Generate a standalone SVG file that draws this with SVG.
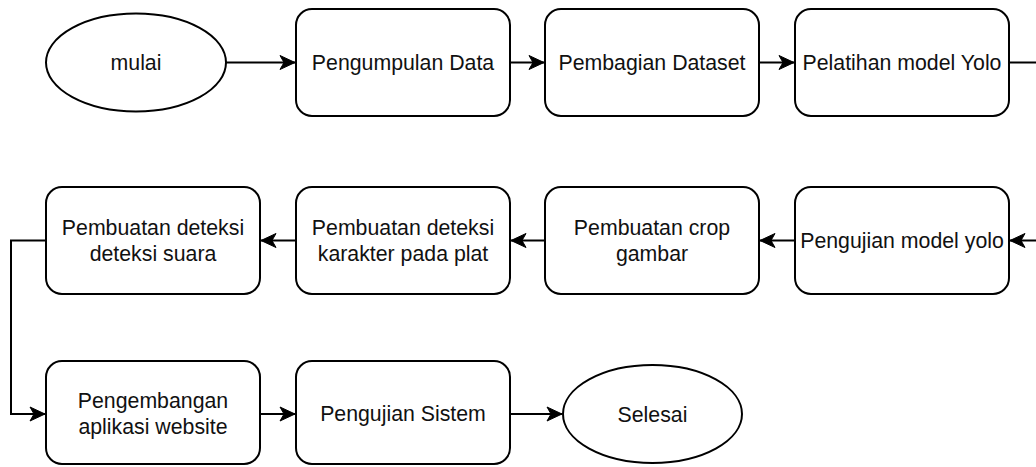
<svg xmlns="http://www.w3.org/2000/svg" width="1036" height="467" viewBox="0 0 1036 467">
<style>
.n{fill:#fff;stroke:#000;stroke-width:2}
.t{font-family:"Liberation Sans",Arial,sans-serif;font-size:21.3px;fill:#111;text-anchor:middle}
.c{fill:none;stroke:#000;stroke-width:2}
</style>
<defs>
<marker id="a" markerUnits="userSpaceOnUse" markerWidth="20" markerHeight="20" viewBox="-16 -10 20 20" refX="0" refY="0" orient="auto">
<path d="M0,0 L-15,-7 L-11,0 L-15,7 Z" fill="#000" stroke="#000" stroke-width="1"/>
</marker>
</defs>
<rect width="1036" height="467" fill="#fff"/>
<g id="connectors">
<path class="c" d="M226,62.5 H295" marker-end="url(#a)"/>
<path class="c" d="M510,62.5 H544" marker-end="url(#a)"/>
<path class="c" d="M759,62.5 H794" marker-end="url(#a)"/>
<path class="c" d="M1009,62.5 H1036"/>
<path class="c" d="M1036,240.5 H1010" marker-end="url(#a)"/>
<path class="c" d="M795,240.5 H760" marker-end="url(#a)"/>
<path class="c" d="M545,240.5 H511" marker-end="url(#a)"/>
<path class="c" d="M296,240.5 H261" marker-end="url(#a)"/>
<path class="c" d="M46,240.5 H11 V414 H45" marker-end="url(#a)"/>
<path class="c" d="M260,414 H295" marker-end="url(#a)"/>
<path class="c" d="M510,414 H562" marker-end="url(#a)"/>
</g>
<g id="mulai"><ellipse class="n" cx="136" cy="62.5" rx="90" ry="49"/><text class="t" x="136" y="70">mulai</text></g>
<g id="pengumpulan"><rect class="n" x="296" y="9" width="214" height="107" rx="16"/><text class="t" x="403" y="70">Pengumpulan Data</text></g>
<g id="pembagian"><rect class="n" x="545" y="9" width="214" height="107" rx="16"/><text class="t" x="652" y="70">Pembagian Dataset</text></g>
<g id="pelatihan"><rect class="n" x="795" y="9" width="214" height="107" rx="16"/><text class="t" x="902" y="70">Pelatihan model Yolo</text></g>
<g id="pengujian-model"><rect class="n" x="795" y="187" width="214" height="107" rx="16"/><text class="t" x="902" y="248">Pengujian model yolo</text></g>
<g id="crop"><rect class="n" x="545" y="187" width="214" height="107" rx="16"/><text class="t" x="652" y="235">Pembuatan crop</text><text class="t" x="652" y="261">gambar</text></g>
<g id="karakter"><rect class="n" x="296" y="187" width="214" height="107" rx="16"/><text class="t" x="403" y="235">Pembuatan deteksi</text><text class="t" x="403" y="261">karakter pada plat</text></g>
<g id="suara"><rect class="n" x="46" y="187" width="214" height="107" rx="16"/><text class="t" x="153" y="235">Pembuatan deteksi</text><text class="t" x="153" y="261">deteksi suara</text></g>
<g id="website"><rect class="n" x="46" y="361" width="214" height="103" rx="16"/><text class="t" x="153" y="408">Pengembangan</text><text class="t" x="153" y="434">aplikasi website</text></g>
<g id="pengujian-sistem"><rect class="n" x="296" y="361" width="214" height="103" rx="16"/><text class="t" x="403" y="421">Pengujian Sistem</text></g>
<g id="selesai"><ellipse class="n" cx="652.5" cy="414" rx="89.5" ry="49"/><text class="t" x="652.5" y="421.5">Selesai</text></g>
</svg>
